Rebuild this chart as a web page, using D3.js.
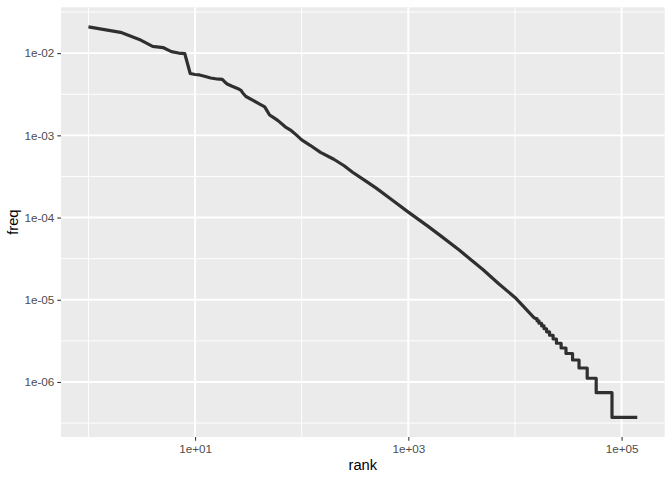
<!DOCTYPE html>
<html><head><meta charset="utf-8">
<script src="https://cdn.jsdelivr.net/npm/d3@7"></script>
<style>body{margin:0;background:#fff} svg{display:block}</style>
</head><body>
<script>
// Head of the curve: individual ranks and their relative frequency
const headRank = [1,2,3,4,5,6,7,8,9,10,11,12,13,14,15,16,17,18,19,20,22,25,27,28,30,35,40,45,48,50,55,60,70,80,90,100,120,150,200,250,300,400,500,700,1000,1500,2000,3000,5000,7000,10000,15000];
const headFreq = [0.0209,0.0179,0.0147,0.0121,0.0117,0.01044,0.01003,0.00989,0.00565,0.00550,0.00543,0.00527,0.00513,0.00499,0.00492,0.00485,0.00482,0.00479,0.00446,0.00422,0.00399,0.00372,0.00352,0.00328,0.00297,0.00266,0.00241,0.00222,0.00193,0.00177,0.00163,0.00151,0.00127,0.00114,0.00100,0.000881,0.000757,0.000622,0.000512,0.000427,0.000356,0.000277,0.000228,0.000165,0.0001164,0.0000798,0.0000603,0.0000402,0.0000233,0.0000158,0.00001067,0.0000061];
// Tail: plateaus of equal frequency (low counts), starting rank of each plateau
const tailStartRank = [15500,16100,16800,17800,18750,19800,21100,22800,24500,27100,30100,34700,39900,47600,57800,81300];
const tailFreq = [5.92e-6,5.55e-6,5.18e-6,4.81e-6,4.44e-6,4.07e-6,3.70e-6,3.33e-6,2.96e-6,2.59e-6,2.22e-6,1.85e-6,1.48e-6,1.11e-6,7.4e-7,3.7e-7];
const lastRank = 140300;

const xTicks = [1e1, 1e3, 1e5];
const xTickLabels = ["1e+01", "1e+03", "1e+05"];
const xMinor = [1e0, 1e2, 1e4];
const yTicks = [1e-2, 1e-3, 1e-4, 1e-5, 1e-6];
const yTickLabels = ["1e-02", "1e-03", "1e-04", "1e-05", "1e-06"];
const yMinor = [Math.pow(10,-1.5), Math.pow(10,-2.5), Math.pow(10,-3.5), Math.pow(10,-4.5), Math.pow(10,-5.5), Math.pow(10,-6.5)];

// build points
const pts = headRank.map((r, i) => [r, headFreq[i]]);
tailStartRank.forEach((r, i) => {
  const end = i + 1 < tailStartRank.length ? tailStartRank[i + 1] - 1 : lastRank;
  pts.push([r, tailFreq[i]]);
  pts.push([end, tailFreq[i]]);
});

const W = 672, H = 480;
const L = 61, R = 664.7, T = 7.3, B = 437;

function expandLog(ext) {
  const lo = Math.log10(ext[0]), hi = Math.log10(ext[1]);
  const e = (hi - lo) * 0.05;
  return [Math.pow(10, lo - e), Math.pow(10, hi + e)];
}
const x = d3.scaleLog().domain(expandLog(d3.extent(pts, d => d[0]))).range([L, R]);
const y = d3.scaleLog().domain(expandLog(d3.extent(pts, d => d[1]))).range([B, T]);

const svg = d3.select("body").append("svg").attr("width", W).attr("height", H);
const font = "'Liberation Sans', Arial, Helvetica, sans-serif";

svg.append("rect").attr("x", L).attr("y", T).attr("width", R - L).attr("height", B - T).attr("fill", "#EBEBEB");

const grid = svg.append("g");
grid.selectAll(".ym").data(yMinor.filter(v => y(v) >= T && y(v) <= B)).join("line")
  .attr("x1", L).attr("x2", R).attr("y1", d => y(d)).attr("y2", d => y(d))
  .attr("stroke", "#fff").attr("stroke-width", 0.95);
grid.selectAll(".xm").data(xMinor).join("line")
  .attr("y1", T).attr("y2", B).attr("x1", d => x(d)).attr("x2", d => x(d))
  .attr("stroke", "#fff").attr("stroke-width", 0.95);
grid.selectAll(".yM").data(yTicks).join("line")
  .attr("x1", L).attr("x2", R).attr("y1", d => y(d)).attr("y2", d => y(d))
  .attr("stroke", "#fff").attr("stroke-width", 1.9);
grid.selectAll(".xM").data(xTicks).join("line")
  .attr("y1", T).attr("y2", B).attr("x1", d => x(d)).attr("x2", d => x(d))
  .attr("stroke", "#fff").attr("stroke-width", 1.9);

// data line
svg.append("path").datum(pts)
  .attr("d", d3.line().x(d => x(d[0])).y(d => y(d[1])))
  .attr("fill", "none").attr("stroke", "#000").attr("stroke-opacity", 0.8)
  .attr("stroke-width", 3.2).attr("stroke-linejoin", "round").attr("stroke-linecap", "butt");

// axes
const xAxis = svg.append("g").attr("transform", `translate(0,${B})`)
  .call(d3.axisBottom(x).tickValues(xTicks).tickFormat((d, i) => xTickLabels[i]).tickSize(3.7).tickPadding(3.5));
const yAxis = svg.append("g").attr("transform", `translate(${L},0)`)
  .call(d3.axisLeft(y).tickValues(yTicks).tickFormat((d, i) => yTickLabels[i]).tickSize(3.7).tickPadding(3));
[xAxis, yAxis].forEach(a => {
  a.select(".domain").remove();
  a.selectAll(".tick line").attr("stroke", "#333").attr("stroke-width", 1.07);
  a.selectAll(".tick text").attr("fill", "#4D4D4D").style("font-family", font).style("font-size", "11.7px");
});

svg.append("text").attr("x", (L + R) / 2).attr("y", 470).attr("text-anchor", "middle")
  .style("font-family", font).style("font-size", "14.7px").attr("fill", "#000").text("rank");
svg.append("text").attr("transform", `translate(18,${(T + B) / 2}) rotate(-90)`).attr("text-anchor", "middle")
  .style("font-family", font).style("font-size", "14.7px").attr("fill", "#000").text("freq");
</script>
</body></html>
